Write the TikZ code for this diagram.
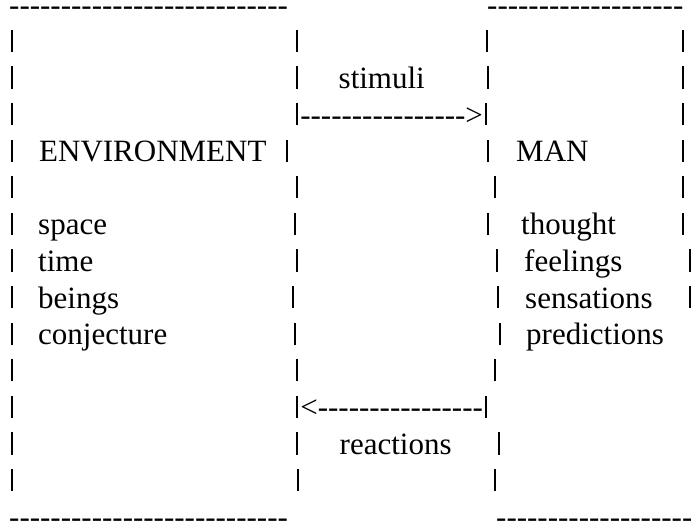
\documentclass[tikz,border=0pt]{standalone}
\usepackage{fontspec}
\newfontfamily\asciifont{Liberation Serif}
\newcommand\dashrun[1]{\foreach\k in {1,...,#1}{-\kern0pt}}
\newcommand\vb{\makebox[0.2em]{\rule{1.8pt}{0.71em}}}

\begin{document}
\begin{tikzpicture}[x=1pt, y=-36.6pt,
    txt/.style={anchor=base west, inner sep=0pt, font=\asciifont\fontsize{31}{36}\selectfont},
    dashrow/.style={txt, text height=0.3em, text depth=0pt}]
            \path[use as bounding box] (0pt,15.3pt) rectangle (691pt,-509.7pt);
            % dashed edges
            \node[dashrow] (topleft) at (9, 0) {\dashrun{27}};
            \node[dashrow] (topright) at (487, 0) {\dashrun{19}};
            \node[dashrow] (botleft) at (9, 14) {\dashrun{27}};
            \node[dashrow] (botright) at (496, 14) {\dashrun{19}};
            % bars, row by row
            \foreach \r/\cols in {1/{12,297,487,683}, 2/{12,297,488,683}, 3/{12,683},
                    4/{12,287,488,683}, 5/{12,297,495,683}, 6/{12,295,488,683},
                    7/{12,297,497,690}, 8/{12,293,498,690}, 9/{12,295,500},
                    10/{12,297,495}, 11/{12}, 12/{12,297,499}, 13/{12,298,495}}
                \foreach \c in \cols
                    \node[txt] (bar-\r-\c) at (\c-3.1, \r) {\vb};
            \node[txt] (envtitle) at (39, 4) {ENVIRONMENT};
            \node[txt] (space) at (38, 6) {space};
            \node[txt] (time) at (38, 7) {time};
            \node[txt] (beings) at (38, 8) {beings};
            \node[txt] (conjecture) at (38, 9) {conjecture};
            \node[txt] (mantitle) at (516, 4) {MAN};
            \node[txt] (thought) at (521, 6) {thought};
            \node[txt] (feelings) at (524, 7) {feelings};
            \node[txt] (sensations) at (525, 8) {sensations};
            \node[txt] (predictions) at (526, 9) {predictions};
            \node[txt] (stimuli) at (338.5, 2) {stimuli};
            \node[txt] (stimarrow) at (293.9, 3) {\vb\dashrun{16}>\vb};
            \node[txt] (reactarrow) at (293.9, 11) {\vb<\dashrun{16}\vb};
            \node[txt] (reactions) at (339.5, 12) {reactions};
        \end{tikzpicture}
\end{document}
